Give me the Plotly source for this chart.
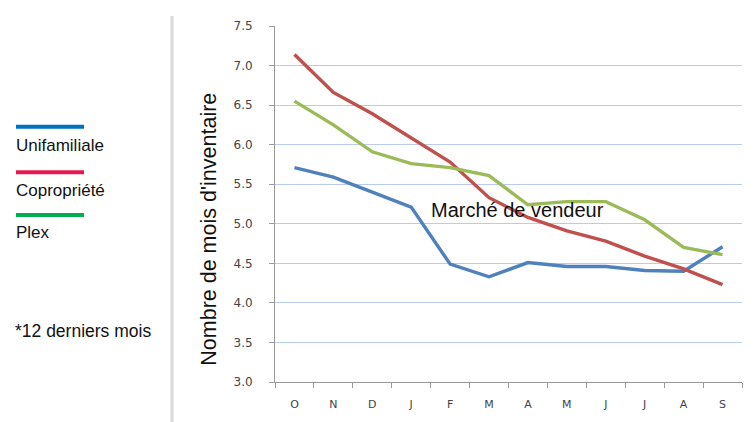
import plotly.graph_objects as go

months = ["O", "N", "D", "J", "F", "M", "A", "M", "J", "J", "A", "S"]
unifamiliale = [5.71, 5.59, 5.40, 5.21, 4.49, 4.33, 4.51, 4.46, 4.46, 4.41, 4.40, 4.71]
copropriete = [7.14, 6.66, 6.39, 6.08, 5.78, 5.33, 5.08, 4.91, 4.78, 4.59, 4.43, 4.23]
plex = [6.55, 6.25, 5.91, 5.76, 5.71, 5.61, 5.24, 5.28, 5.28, 5.05, 4.70, 4.61]
y_ticks = [3.0, 3.5, 4.0, 4.5, 5.0, 5.5, 6.0, 6.5, 7.0, 7.5]

# page has an 8px body margin; work in page coordinates
OFF = 8
W, H = 753 - OFF, 422 - OFF
PL, PR, PT, PB = 275, 742, 22, 382  # plot area in page coords
L, T = PL - OFF, PT - OFF
R = OFF + W - PR
B = OFF + H - PB
PW, PH = PR - PL, PB - PT

def px(x):
    return (x - PL) / PW

def py(y):
    return (PB - y) / PH

xs = list(range(len(months)))
fig = go.Figure()
series = [
    ("Unifamiliale", unifamiliale, "#4F81BD"),
    ("Copropriété", copropriete, "#C0504D"),
    ("Plex", plex, "#9BBB59"),
]
for name, vals, col in series:
    fig.add_trace(go.Scatter(x=xs, y=vals, mode="lines", name=name,
                             line=dict(color=col, width=3.4), showlegend=False))

font = "Liberation Sans, Arial, sans-serif"
shapes = []
annotations = []
legend_items = [("Unifamiliale", "#0070C0", 124, 143),
                ("Copropriété", "#E8174F", 170, 188),
                ("Plex", "#00B050", 213, 231)]
for name, col, ly, ty in legend_items:
    shapes.append(dict(type="line", xref="paper", yref="paper",
                       x0=px(16), x1=px(84), y0=py(ly), y1=py(ly),
                       line=dict(color=col, width=4)))
    annotations.append(dict(text=name, xref="paper", yref="paper",
                            x=px(14), y=py(ty), xanchor="left", yanchor="middle",
                            showarrow=False, font=dict(size=17, color="#111", family=font)))
annotations.append(dict(text="*12 derniers mois", xref="paper", yref="paper",
                        x=px(13), y=py(330), xanchor="left", yanchor="middle",
                        showarrow=False, font=dict(size=17.5, color="#111", family=font)))
annotations.append(dict(text="Marché de vendeur", xref="paper", yref="paper",
                        x=px(429), y=py(208), xanchor="left", yanchor="middle",
                        showarrow=False, font=dict(size=20, color="#111", family=font)))
annotations.append(dict(text="Nombre de mois d'inventaire", xref="paper", yref="paper",
                        x=px(209), y=py(228), xanchor="center", yanchor="middle",
                        textangle=-90, showarrow=False,
                        font=dict(size=21.5, color="#111", family=font)))
# panel shadow line
shapes.append(dict(type="line", xref="paper", yref="paper",
                   x0=px(172), x1=px(172), y0=py(12), y1=py(425),
                   line=dict(color="#d9d9d9", width=3), layer="below"))

fig.update_layout(
    width=W, height=H,
    margin=dict(l=L, r=R, t=T, b=B),
    paper_bgcolor="white", plot_bgcolor="white",
    shapes=shapes, annotations=annotations,
    xaxis=dict(range=[-0.5, len(months) - 0.5], tickvals=xs, ticktext=months,
               ticks="", showgrid=False, zeroline=False,
               showline=True, linecolor="#999", linewidth=1,
               ticklabelstandoff=12,
               tickfont=dict(size=11, color="#444", family="DejaVu Sans, sans-serif"),
               minor=dict(tickvals=[i - 0.5 for i in range(len(months) + 1)],
                          ticks="outside", ticklen=5, tickcolor="#999", showgrid=False)),
    yaxis=dict(range=[3.0, 7.5], tickvals=y_ticks, ticktext=[f"{v:.1f}" for v in y_ticks],
               ticks="outside", ticklen=5, tickcolor="#999",
               showgrid=True, gridcolor="#B9CCEE", gridwidth=1, zeroline=False,
               showline=True, linecolor="#999", linewidth=1,
               ticklabelstandoff=14,
               tickfont=dict(size=12, color="#444", family="DejaVu Sans, sans-serif")),
)

fig.write_html("out.html")
